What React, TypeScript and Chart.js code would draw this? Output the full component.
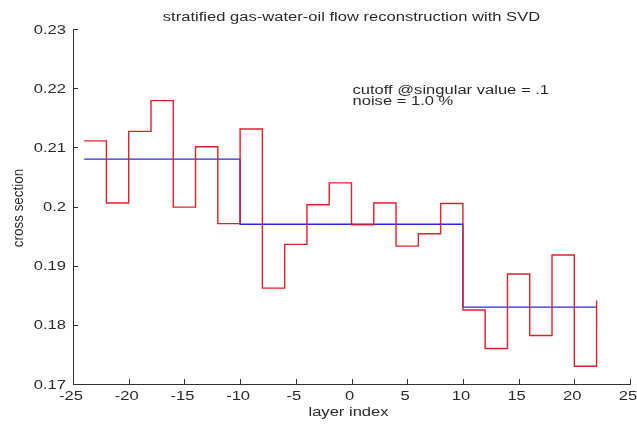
import { useEffect, useRef } from "react";
import { Chart, registerables } from "chart.js";

Chart.register(...registerables);

// Layer centres (left edge of each stair step)
const layerIndex = [
  -24, -22, -20, -18, -16, -14, -12, -10, -8, -6, -4, -2,
  0, 2, 4, 6, 8, 10, 12, 14, 16, 18, 20, 22,
];

// Noisy cross section per layer
const noisySection = [
  0.2111, 0.2006, 0.2127, 0.2179, 0.1999, 0.2101, 0.1971, 0.2131,
  0.1862, 0.1936, 0.2003, 0.204, 0.1969, 0.2006, 0.1933, 0.1954,
  0.2005, 0.1825, 0.176, 0.1886, 0.1782, 0.1918, 0.173, 0.1841,
];

// SVD reconstruction (gas / water / oil layers)
const reconstructed = [
  0.208, 0.208, 0.208, 0.208, 0.208, 0.208, 0.208,
  0.197, 0.197, 0.197, 0.197, 0.197, 0.197, 0.197, 0.197, 0.197, 0.197,
  0.183, 0.183, 0.183, 0.183, 0.183, 0.183, 0.183,
];

const xTicks = [-25, -20, -15, -10, -5, 0, 5, 10, 15, 20, 25];
const yTicks = [0.17, 0.18, 0.19, 0.2, 0.21, 0.22, 0.23];

const titleText = "stratified gas-water-oil flow reconstruction with SVD";
const xLabel = "layer index";
const yLabel = "cross section";
const noteLines = ["cutoff @singular value = .1", "noise = 1.0 %"];

const FONT = "12px 'Liberation Sans', Arial, sans-serif";
const TEXT = "#2a2a2a";
const SX = 1.38;

function fmt(v: number) {
  return String(Number(v.toFixed(3)));
}

function wideText(
  ctx: CanvasRenderingContext2D,
  s: string,
  x: number,
  y: number,
  align: CanvasTextAlign,
  baseline: CanvasTextBaseline = "alphabetic"
) {
  ctx.save();
  ctx.translate(x, y);
  ctx.scale(SX, 1);
  ctx.textAlign = align;
  ctx.textBaseline = baseline;
  ctx.fillText(s, 0, 0);
  ctx.restore();
}

const decorations = {
  id: "decorations",
  afterDraw(chart: any) {
    const { ctx, chartArea, scales } = chart;
    const xs = scales.x;
    const ys = scales.y;
    ctx.save();
    ctx.font = FONT;
    ctx.fillStyle = TEXT;
    ctx.strokeStyle = "#333";
    ctx.lineWidth = 1;

    // inward tick marks
    ctx.beginPath();
    xTicks.forEach((v) => {
      const px = Math.round(xs.getPixelForValue(v)) + 0.5;
      ctx.moveTo(px, chartArea.bottom);
      ctx.lineTo(px, chartArea.bottom - 5);
    });
    yTicks.forEach((v) => {
      const py = Math.round(ys.getPixelForValue(v)) + 0.5;
      ctx.moveTo(chartArea.left, py);
      ctx.lineTo(chartArea.left + 5, py);
    });
    ctx.stroke();

    // tick labels
    xTicks.forEach((v) => {
      wideText(ctx, fmt(v), xs.getPixelForValue(v) - 2, chartArea.bottom + 16, "center");
    });
    yTicks.forEach((v) => {
      wideText(ctx, fmt(v), chartArea.left - 7, ys.getPixelForValue(v) + 4.5, "right");
    });

    const cx = (chartArea.left + chartArea.right) / 2;
    wideText(ctx, titleText, cx, 21, "center");
    wideText(ctx, xLabel, cx - 3, 415.5, "center");

    // annotation
    const nx = xs.getPixelForValue(0) + 1;
    wideText(ctx, noteLines[0], nx, 94, "left");
    wideText(ctx, noteLines[1], nx, 105, "left");

    // y axis title
    ctx.save();
    ctx.translate(23, 208);
    ctx.scale(1.25, 1.12);
    ctx.rotate(-Math.PI / 2);
    ctx.textAlign = "center";
    ctx.textBaseline = "alphabetic";
    ctx.fillText(yLabel, 0, 0);
    ctx.restore();

    ctx.restore();
  },
};

export default function App() {
  const ref = useRef<HTMLCanvasElement>(null);

  useEffect(() => {
    const chart = new Chart(ref.current!, {
      type: "line",
      data: {
        datasets: [
          {
            label: "noisy",
            data: layerIndex.map((x, i) => ({ x, y: noisySection[i] })),
            borderColor: "rgb(226,32,44)",
            borderWidth: 1.4,
            pointRadius: 0,
            stepped: "before",
            fill: false,
          },
          {
            label: "reconstruction",
            data: layerIndex.map((x, i) => ({ x, y: reconstructed[i] })),
            borderColor: "rgb(40,40,225)",
            borderWidth: 1.4,
            pointRadius: 0,
            stepped: "before",
            fill: false,
          },
        ],
      },
      options: {
        animation: false,
        responsive: false,
        devicePixelRatio: 1,
        layout: { padding: { top: 29, right: 7, left: 0, bottom: 0 } },
        plugins: {
          legend: { display: false },
          title: { display: false },
          tooltip: { enabled: false },
        },
        scales: {
          x: {
            type: "linear",
            min: -25,
            max: 25,
            ticks: { display: false, stepSize: 5 },
            grid: { display: true, drawOnChartArea: false, drawTicks: false },
            border: { display: true, color: "#333", width: 1 },
            afterFit: (s: any) => {
              s.height = 41;
              s.paddingLeft = 0;
              s.paddingRight = 0;
            },
          },
          y: {
            type: "linear",
            min: 0.17,
            max: 0.23,
            ticks: { display: false, stepSize: 0.01 },
            grid: { display: true, drawOnChartArea: false, drawTicks: false },
            border: { display: true, color: "#333", width: 1 },
            afterFit: (s: any) => {
              s.width = 73;
              s.paddingTop = 0;
              s.paddingBottom = 0;
            },
          },
        },
      },
      plugins: [decorations],
    });
    return () => chart.destroy();
  }, []);

  return (
    <div
      style={{
        position: "fixed",
        left: 0,
        top: 0,
        width: 637,
        height: 425,
        background: "#fff",
      }}
    >
      <canvas
        ref={ref}
        width={637}
        height={425}
        style={{ display: "block", width: 637, height: 425 }}
      />
    </div>
  );
}
